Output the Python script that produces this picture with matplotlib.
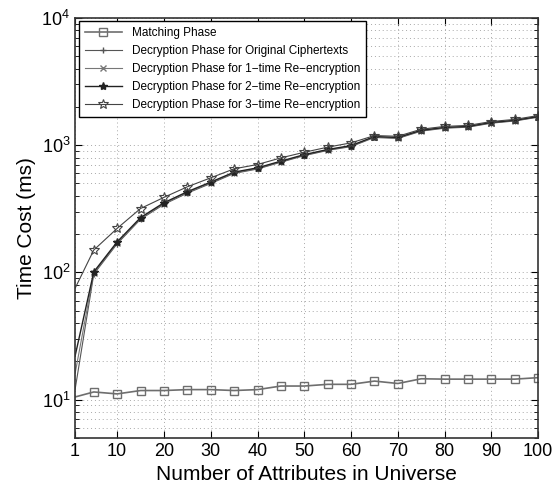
import matplotlib
matplotlib.use("Agg")
import matplotlib.pyplot as plt
from matplotlib.ticker import LogLocator, NullFormatter

plt.rcParams['font.family'] = ['Liberation Sans', 'DejaVu Sans']

# number of attributes in universe
attrs = [1, 5, 10, 15, 20, 25, 30, 35, 40, 45, 50, 55, 60, 65, 70, 75, 80, 85, 90, 95, 100]

# time cost (ms)
matching = [10.5, 11.5, 11.1, 11.8, 11.8, 12.0, 12.0, 11.8, 12.0, 12.8, 12.8, 13.2, 13.2,
            14.0, 13.4, 14.6, 14.5, 14.5, 14.5, 14.5, 14.9]
dec_orig = [12, 97, 168, 262, 343, 420, 500, 600, 650, 735, 828, 910, 975,
            1150, 1130, 1290, 1360, 1385, 1490, 1550, 1660]
dec_1time = [16, 99, 171, 266, 348, 426, 507, 607, 657, 742, 836, 918, 985,
             1160, 1140, 1300, 1370, 1395, 1500, 1560, 1670]
dec_2time = [22, 101, 174, 270, 353, 431, 513, 614, 664, 749, 843, 925, 993,
             1170, 1150, 1310, 1380, 1405, 1510, 1570, 1680]
dec_3time = [75, 150, 222, 318, 389, 471, 554, 652, 705, 795, 880, 965, 1043,
             1190, 1175, 1335, 1405, 1430, 1535, 1595, 1710]

fig = plt.figure(figsize=(5.52, 4.93), dpi=100)
ax = fig.add_axes([0.136, 0.1116, 0.839, 0.852])

skip = slice(1, None)  # no marker drawn at the first point
ax.semilogy(attrs, matching, color='#6e6e6e', lw=1.2, marker='s', ms=6,
            mfc='none', mec='#6e6e6e', mew=1.0, markevery=skip,
            label='Matching Phase')
ax.semilogy(attrs, dec_orig, color='#555555', lw=0.8, marker='+', ms=4,
            markevery=skip, label='Decryption Phase for Original Ciphertexts')
ax.semilogy(attrs, dec_1time, color='#777777', lw=0.8, marker='x', ms=4,
            markevery=skip, label='Decryption Phase for 1\u2212time Re\u2212encryption')
ax.semilogy(attrs, dec_2time, color='#222222', lw=1.0, marker='*', ms=6,
            markevery=skip, label='Decryption Phase for 2\u2212time Re\u2212encryption')
ax.semilogy(attrs, dec_3time, color='#444444', lw=0.8, marker='*', ms=7,
            mfc='none', mec='#444444', mew=0.8, markevery=skip,
            label='Decryption Phase for 3\u2212time Re\u2212encryption')

ax.set_xlim(1, 100)
ax.set_ylim(5, 1e4)
ax.set_xticks([1, 10, 20, 30, 40, 50, 60, 70, 80, 90, 100])
ax.yaxis.set_major_locator(LogLocator(base=10, numticks=10))
ax.yaxis.set_minor_locator(LogLocator(base=10, subs=range(2, 10), numticks=20))
ax.yaxis.set_minor_formatter(NullFormatter())
ax.tick_params(axis='both', which='both', direction='in', top=True, right=True,
               labelsize=13)
ax.tick_params(axis='both', which='major', length=5)
ax.tick_params(axis='y', which='minor', length=3)
ax.grid(True, which='major', ls=(0, (1, 3)), color='#a8a8a8', lw=0.7)
ax.grid(True, which='minor', axis='y', ls=(0, (1, 3)), color='#a8a8a8', lw=0.7)
for s in ax.spines.values():
    s.set_linewidth(1.2)
    s.set_color('#333333')

ax.set_xlabel('Number of Attributes in Universe', fontsize=15)
ax.set_ylabel('Time Cost (ms)', fontsize=15)

leg = ax.legend(loc='upper left', fontsize=8.5, frameon=True, fancybox=False,
                edgecolor='black', framealpha=1, borderaxespad=0.3,
                handlelength=3.2, labelspacing=0.5, borderpad=0.5)
leg.get_frame().set_linewidth(1.0)

fig.savefig('out.png', dpi=100)
